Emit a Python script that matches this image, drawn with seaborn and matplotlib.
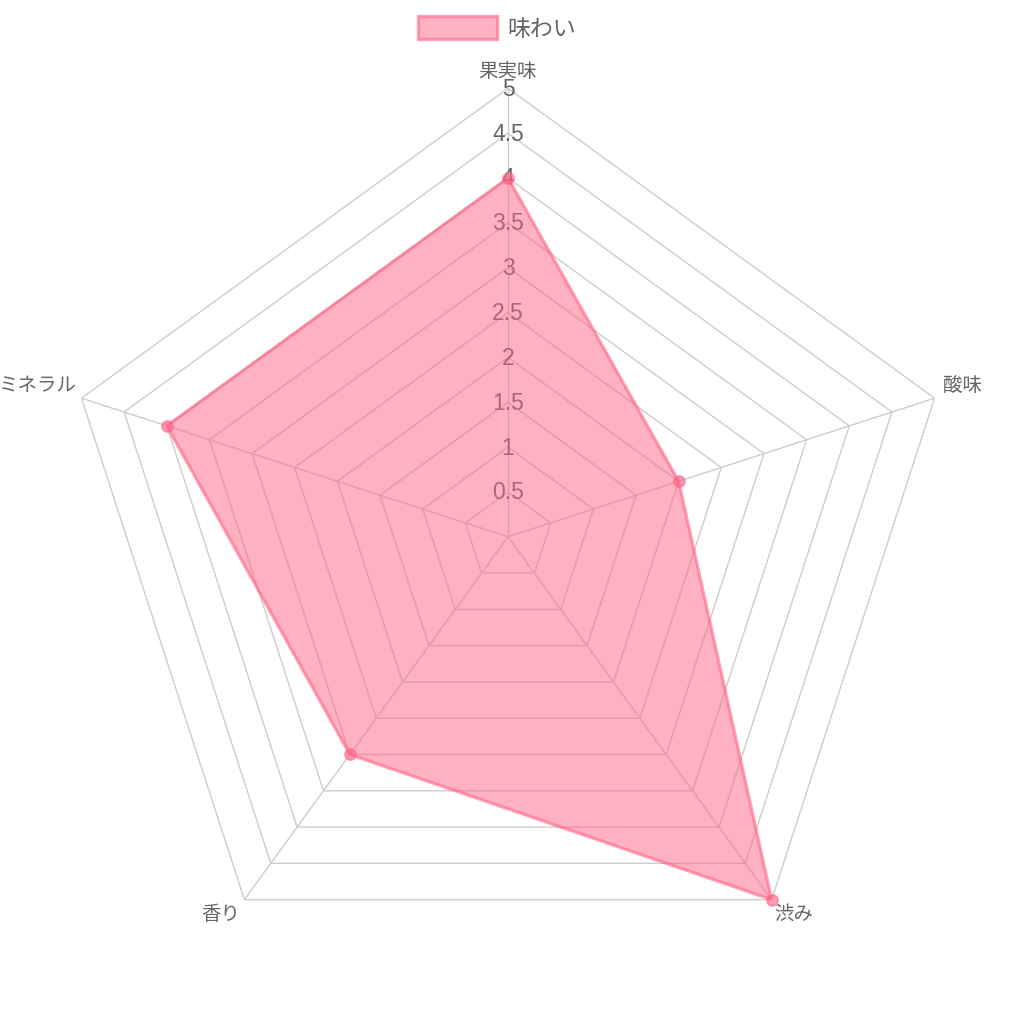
import numpy as np
import pandas as pd
import matplotlib
matplotlib.use("Agg")
import matplotlib.pyplot as plt
import seaborn as sns
from matplotlib.patches import Patch

categories = ["果実味", "酸味", "渋み", "香り", "ミネラル"]
values = [4, 2, 5, 3, 4]
series_name = "味わい"
ticks = [0.5, 1, 1.5, 2, 2.5, 3, 3.5, 4, 4.5, 5]
tick_labels = ["0.5", "1", "1.5", "2", "2.5", "3", "3.5", "4", "4.5", "5"]

sns.set_style("white")
plt.rcParams['font.family'] = ['Noto Sans CJK JP', 'DejaVu Sans']

n = len(categories)
angles = np.linspace(0, 2 * np.pi, n, endpoint=False)
df = pd.DataFrame({"theta": angles, "value": values, "cat": categories})

fig = plt.figure(figsize=(10.12, 10.12), dpi=100)
R = 0.4432
cx, cy = 0.502, 0.4686
ax = fig.add_axes([cx - R, cy - R, 2 * R, 2 * R], projection="polar")
ax.set_theta_offset(np.pi / 2)
ax.set_theta_direction(-1)
ax.set_ylim(0, 5)
ax.grid(False)
ax.spines["polar"].set_visible(False)
ax.set_facecolor("white")

grid_c = "#cdcdcd"
closed = np.append(angles, angles[0])
for t in ticks:
    ax.plot(closed, [t] * (n + 1), color=grid_c, lw=1.0, zorder=1)
for a in angles:
    ax.plot([a, a], [0, 5], color=grid_c, lw=1.0, zorder=1)

for t, lab in zip(ticks, tick_labels):
    ax.text(0, t, lab, ha="center", va="center", fontsize=16.5,
            color="#666666", family=["Liberation Sans", "DejaVu Sans"], zorder=2)

pink = (1.0, 99 / 255, 132 / 255)
vals_closed = np.append(values, values[0])
ax.fill(closed, vals_closed, color=pink, alpha=0.5, lw=0, zorder=3)
ax.plot(closed, vals_closed, color=pink, alpha=0.6, lw=2.3, zorder=4)
sns.scatterplot(data=df, x="theta", y="value", ax=ax, s=60, color=pink,
                alpha=0.6, edgecolor=pink, linewidth=1.5, zorder=5, legend=False,
                clip_on=False)
ax.set_xlabel("")
ax.set_ylabel("")
ax.set_xticks([])
ax.set_yticks([])
ax.set_ylim(0, 5)

offsets = [((0, 18), "center"), ((8, 14), "left"), ((3, -14), "left"),
           ((-4, -14), "right"), ((-4, 14), "right")]
for a, lab, (off, ha) in zip(angles, categories, offsets):
    ax.annotate(lab, xy=(a, 5), xytext=off, textcoords="offset pixels",
                ha=ha, va="center", fontsize=14.0, color="#666666",
                annotation_clip=False)

handle = Patch(facecolor=(1.0, 99 / 255, 132 / 255, 0.5),
               edgecolor=(1.0, 99 / 255, 132 / 255, 0.6), linewidth=2.3)
fig.legend([handle], [series_name], loc="center", bbox_to_anchor=(0.4915, 1 - 29 / 1012),
           frameon=False, fontsize=16.5, handlelength=3.45, handleheight=1.15,
           handletextpad=0.45, labelcolor="#666666")

fig.savefig("out.png", dpi=100, facecolor="white")
